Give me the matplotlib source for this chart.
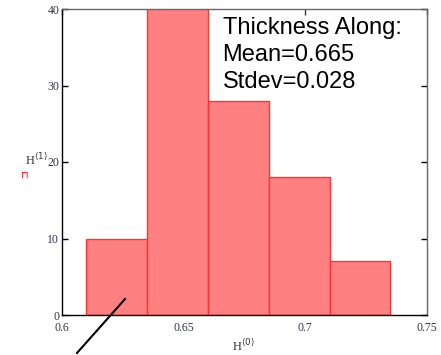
import numpy as np
import matplotlib.pyplot as plt

# histogram of thickness (bin edges and counts)
edges = [0.61, 0.635, 0.66, 0.685, 0.71, 0.735]
counts = [10, 44, 28, 18, 7]
xticks = [0.6, 0.65, 0.7, 0.75]
xticklabels = ["0.6", "0.65", "0.7", "0.75"]
yticks = [0, 10, 20, 30, 40]

fig = plt.figure(figsize=(4.41, 3.55), dpi=100)
ax = fig.add_axes([62/441, 40/355, 365/441, 306/355])

left = np.array(edges[:-1])
widths = np.diff(edges)
ax.bar(left, counts, width=widths, align='edge', color='#ff8080',
       edgecolor='#ff3333', linewidth=1.0, zorder=2.6)

ax.set_xlim(0.6, 0.75)
ax.set_ylim(0, 40)
ax.set_xticks(xticks)
ax.set_xticklabels(xticklabels)
ax.set_yticks(yticks)

for s in ['left', 'bottom']:
    ax.spines[s].set_color('black')
for s in ['top', 'right']:
    ax.spines[s].set_color('#666666')
for s in ax.spines.values():
    s.set_linewidth(1.0)
    s.set_zorder(2.7)

ax.tick_params(axis='both', direction='in', length=4, width=1,
               labelsize=8.5, labelcolor='#333355', pad=2,
               top=True, right=True)
ax.tick_params(axis='x', bottom=False, pad=5)
ax.tick_params(axis='x', which='major', top=True, color='#333333')
for lab in ax.get_xticklabels() + ax.get_yticklabels():
    lab.set_family('Liberation Serif')

ax.text(0.44, 0.975, "Thickness Along:\nMean=0.665\nStdev=0.028",
        transform=ax.transAxes, ha='left', va='top', fontsize=17,
        family='Liberation Sans', linespacing=1.3)

fig.text(36/441, 1 - 160/355, r"H$^{\langle 1\rangle}$", ha='center',
         va='center', fontsize=9, family='Liberation Serif', color='#333333')
fig.text(25/441, 1 - 175/355, "\u2293", ha='center', va='center',
         fontsize=7, color='red')
fig.text(243/441, 1 - 346/355, r"H$^{\langle 0\rangle}$", ha='center',
         va='center', fontsize=9, family='Liberation Serif', color='#333333')

fig.add_artist(plt.Line2D([77/441, 125/441], [1 - 353/355, 1 - 299/355],
                          transform=fig.transFigure, color='black', lw=1.5))

fig.savefig("out.png", dpi=100)
